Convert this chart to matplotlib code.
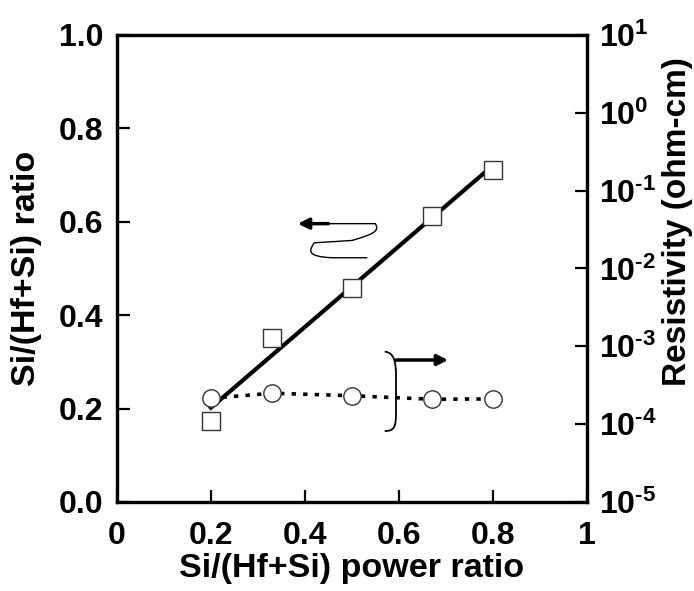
import numpy as np
import matplotlib
matplotlib.use('Agg')
import matplotlib.pyplot as plt
from matplotlib.path import Path
from matplotlib.patches import PathPatch

plt.rcParams['font.family'] = ['Liberation Sans', 'DejaVu Sans']
plt.rcParams['font.weight'] = 'bold'
plt.rcParams['mathtext.fontset'] = 'custom'
plt.rcParams['mathtext.bf'] = 'Liberation Sans:bold'
plt.rcParams['mathtext.rm'] = 'Liberation Sans:bold'

# data
power_ratio = [0.2, 0.33, 0.5, 0.67, 0.8]
si_ratio = [0.174, 0.351, 0.458, 0.612, 0.711]
resistivity = [2.15e-4, 2.5e-4, 2.32e-4, 2.09e-4, 2.11e-4]

x_ticks = [0, 0.2, 0.4, 0.6, 0.8, 1.0]
x_labels = ['0', '0.2', '0.4', '0.6', '0.8', '1']
y_ticks = [0.0, 0.2, 0.4, 0.6, 0.8, 1.0]
y_labels = ['0.0', '0.2', '0.4', '0.6', '0.8', '1.0']
r_exps = ['-5', '-4', '-3', '-2', '-1', '0', '1']

fig = plt.figure(figsize=(6.94, 5.91), dpi=100)
ax = fig.add_axes([0.1686, 0.1506, 0.8454 - 0.1686, 0.9408 - 0.1506])
ax2 = ax.twinx()

# linear fit through the squares
slope, icpt = np.polyfit(power_ratio, si_ratio, 1)
xf = np.array([power_ratio[0], power_ratio[-1]])
ax.plot(xf, slope * xf + icpt, color='black', lw=3, zorder=2)
ax.plot(power_ratio, si_ratio, ls='none', marker='s', ms=13, mfc='white',
        mec='#333333', mew=1.0, zorder=3)

ax2.plot(power_ratio, resistivity, color='black', lw=2.6,
         ls=(0, (1.2, 2.0)), zorder=2)
ax2.plot(power_ratio, resistivity, ls='none', marker='o', ms=12.5, mfc='white',
         mec='#333333', mew=1.0, zorder=3)

ax.set_xlim(0, 1)
ax.set_ylim(0, 1)
ax2.set_yscale('log')
ax2.set_ylim(1e-5, 1e1)

ax.set_xticks(x_ticks)
ax.set_xticklabels(x_labels)
ax.set_yticks(y_ticks)
ax.set_yticklabels(y_labels)
ax2.set_yticks([10.0 ** int(e) for e in r_exps])
ax2.set_yticklabels([r'$\mathbf{10^{\text{%s}}}$' % e for e in r_exps])
ax2.minorticks_off()

ax.tick_params(axis='both', direction='in', length=9, width=1.6,
               labelsize=23, top=False, right=False)
ax.tick_params(axis='y', pad=10)
ax.tick_params(axis='x', pad=14)
ax2.tick_params(axis='y', direction='in', length=9, width=1.6,
                labelsize=23, pad=9)

for a in (ax, ax2):
    for s in a.spines.values():
        s.set_linewidth(2.3)

ax.set_xlabel('Si/(Hf+Si) power ratio', fontsize=24.5, fontweight='bold', labelpad=1)
ax.set_ylabel('Si/(Hf+Si) ratio', fontsize=24.5, fontweight='bold')
ax.yaxis.set_label_coords(-0.16, 0.5)
ax2.set_ylabel('Resistivity (ohm-cm)', fontsize=24, fontweight='bold')
ax2.yaxis.set_label_coords(1.16, 0.60)

# S-shaped arrow pointing to the left axis
s_path = Path([(0.533, 0.523), (0.46, 0.523), (0.40, 0.525), (0.41, 0.54),
               (0.42, 0.555), (0.50, 0.56), (0.545, 0.573),
               (0.56, 0.58), (0.55, 0.596), (0.53, 0.596),
               (0.41, 0.596)],
              [Path.MOVETO, Path.LINETO, Path.CURVE4, Path.CURVE4,
               Path.CURVE4, Path.LINETO, Path.CURVE4,
               Path.CURVE4, Path.CURVE4, Path.LINETO,
               Path.LINETO])
ax.add_patch(PathPatch(s_path, fill=False, lw=1.0, color='black'))
ax.annotate('', xy=(0.385, 0.596), xytext=(0.45, 0.596),
            arrowprops=dict(arrowstyle='-|>', color='black', lw=2.5,
                            mutation_scale=16, shrinkA=0, shrinkB=0))

# bracket with arrow pointing to the right axis
b_path = Path([(0.57, 0.322), (0.59, 0.32), (0.594, 0.30), (0.594, 0.27),
               (0.594, 0.19), (0.594, 0.16), (0.59, 0.152), (0.57, 0.152)],
              [Path.MOVETO, Path.CURVE4, Path.CURVE4, Path.CURVE4,
               Path.LINETO, Path.CURVE4, Path.CURVE4, Path.CURVE4])
ax.add_patch(PathPatch(b_path, fill=False, lw=1.3, color='black'))
ax.annotate('', xy=(0.705, 0.304), xytext=(0.594, 0.304),
            arrowprops=dict(arrowstyle='-|>', color='black', lw=2.5,
                            mutation_scale=16, shrinkA=0, shrinkB=0))

fig.savefig('out.png', dpi=100)
